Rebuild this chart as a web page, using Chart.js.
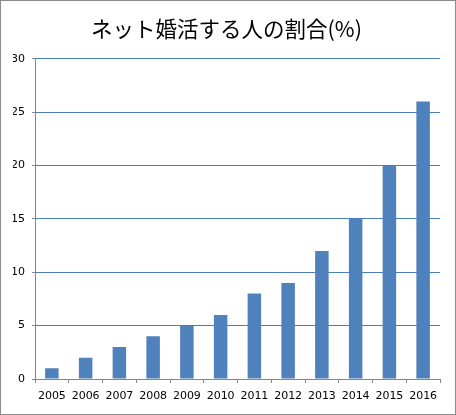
<!DOCTYPE html>
<html>
<head>
<meta charset="utf-8">
<script src="https://cdn.jsdelivr.net/npm/chart.js@4/dist/chart.umd.min.js"></script>
<style>
    html, body { margin: 0; padding: 0; background: #fff; }
    .frame { width: 456px; height: 415px; box-sizing: border-box; border: 1px solid #8c8c8c; }
    canvas { display: block; }
</style>
</head>
<body>
<div class="frame">
    <canvas id="chart" width="454" height="413"></canvas>
</div>
<script>
const titleText = "ネット婚活する人の割合(%)";
const years = ["2005", "2006", "2007", "2008", "2009", "2010", "2011", "2012", "2013", "2014", "2015", "2016"];
const shares = [1, 2, 3, 4, 5, 6, 8, 9, 12, 15, 20, 26];
const yMin = 0;
const yMax = 30;
const yStep = 5;

new Chart(document.getElementById("chart"), {
    type: "bar",
    data: {
        labels: years,
        datasets: [{
            data: shares,
            backgroundColor: "#4f81bd",
            categoryPercentage: 1,
            barPercentage: 0.4
        }]
    },
    options: {
        responsive: false,
        animation: false,
        // left padding keeps the title centred like the original
        layout: { padding: { left: 12, right: 15, top: 0, bottom: 0 } },
        plugins: {
            legend: { display: false },
            tooltip: { enabled: false },
            title: {
                display: true,
                text: titleText,
                color: "#000",
                font: { family: "'Noto Sans CJK JP', sans-serif", size: 21.5, weight: "normal" },
                padding: { top: 15, bottom: 17 }
            }
        },
        scales: {
            x: {
                grid: { offset: true, drawOnChartArea: false, drawTicks: true, tickLength: 4, color: "#868686" },
                border: { color: "#868686" },
                ticks: { color: "#000", font: { family: "'DejaVu Sans', sans-serif", size: 11 }, padding: 7, maxRotation: 0, autoSkip: false },
                afterFit(scale) { scale.height = 35; }
            },
            y: {
                min: yMin,
                max: yMax,
                grid: { color: "#4a7ebb", tickLength: 3, tickColor: "#868686" },
                border: { color: "#868686" },
                ticks: { stepSize: yStep, color: "#000", font: { family: "'DejaVu Sans', sans-serif", size: 11 }, padding: 7 },
                afterFit(scale) { scale.width = 22; }
            }
        }
    }
});
</script>
</body>
</html>
